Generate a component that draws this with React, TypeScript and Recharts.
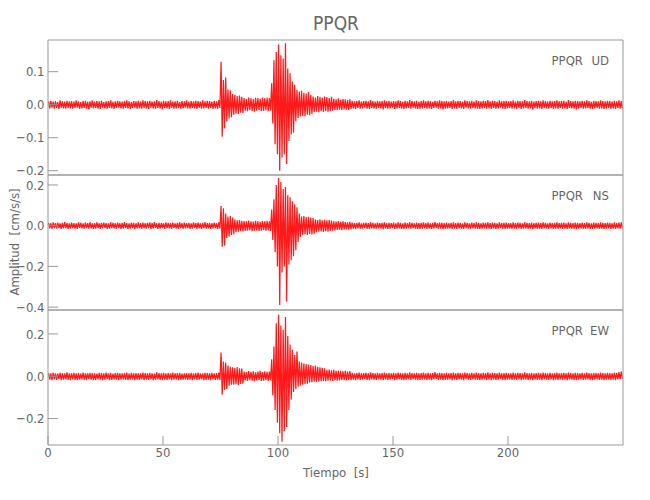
import React from 'react';
import { LineChart, Line, XAxis, YAxis } from 'recharts';

const FONT = "'Liberation Sans Narrow', 'DejaVu Sans Condensed', 'Liberation Sans', sans-serif";
const INK = '#666666';
const AXIS = '#999999';
const TRACE = '#ff0000';

const STATION = 'PPQR';
const TIME_MAJOR = [0, 50, 100, 150, 200];
const TIME_MINOR = [10, 20, 30, 40, 60, 70, 80, 90, 110, 120, 130, 140, 160, 170, 180, 190, 210, 220, 230, 240];

// peak (hi) and trough (lo) of each 1 s bin, cm/s/s
const UD_HI = [
  .010, .012, .009, .011, .008, .013, .010, .009, .012, .010,
  .011, .009, .013, .010, .008, .011, .012, .009, .010, .013,
  .009, .011, .010, .012, .008, .010, .011, .013, .009, .010,
  .012, .010, .009, .011, .013, .010, .008, .011, .010, .012,
  .009, .013, .011, .010, .012, .009, .010, .014, .011, .009,
  .012, .010, .011, .013, .009, .010, .012, .008, .011, .010,
  .013, .009, .011, .010, .012, .011, .009, .013, .010, .012,
  .011, .009, .012, .010, .014, .130, .075, .082, .046, .044,
  .032, .030, .026, .028, .024, .020, .018, .022, .019, .017,
  .021, .020, .018, .022, .019, .021, .020, .065, .135, .160,
  .182, .150, .140, .186, .110, .095, .070, .060, .045, .040,
  .042, .036, .034, .038, .030, .025, .022, .026, .024, .021,
  .025, .023, .020, .024, .018, .016, .019, .015, .017, .016,
  .014, .016, .012, .010, .011, .013, .009, .011, .012, .010,
  .014, .011, .009, .012, .010, .011, .013, .010, .012, .009,
  .011, .010, .013, .011, .009, .012, .010, .014, .011, .010,
  .012, .009, .011, .013, .010, .012, .011, .009, .012, .010,
  .013, .011, .010, .012, .009, .011, .014, .010, .012, .011,
  .009, .013, .011, .010, .012, .009, .013, .011, .010, .012,
  .011, .014, .010, .012, .011, .009, .013, .010, .011, .012,
  .010, .011, .013, .009, .012, .011, .010, .014, .011, .010,
  .012, .009, .011, .012, .010, .013, .011, .009, .012, .010,
  .011, .013, .010, .011, .012, .009, .014, .011, .010, .012,
  .011, .010, .012, .010, .013, .011, .009, .012, .011, .010,
  .013, .011, .010, .012, .011, .009, .012, .010, .013, .011,
];
const UD_LO = [
  -.011, -.009, -.012, -.010, -.013, -.009, -.011, -.012, -.010, -.011,
  -.012, -.010, -.009, -.013, -.011, -.010, -.012, -.014, -.009, -.011,
  -.010, -.012, -.013, -.009, -.011, -.012, -.010, -.011, -.013, -.010,
  -.009, -.011, -.012, -.010, -.011, -.013, -.010, -.009, -.012, -.011,
  -.012, -.010, -.011, -.013, -.009, -.011, -.012, -.010, -.011, -.014,
  -.010, -.011, -.013, -.009, -.012, -.011, -.010, -.012, -.011, -.009,
  -.011, -.012, -.010, -.011, -.013, -.009, -.012, -.011, -.010, -.012,
  -.010, -.013, -.011, -.012, -.010, -.097, -.072, -.050, -.042, -.038,
  -.030, -.027, -.028, -.024, -.026, -.018, -.020, -.017, -.019, -.021,
  -.018, -.016, -.020, -.019, -.017, -.020, -.018, -.057, -.120, -.150,
  -.200, -.160, -.150, -.180, -.110, -.090, -.085, -.050, -.040, -.036,
  -.034, -.035, -.030, -.032, -.028, -.022, -.021, -.023, -.020, -.022,
  -.019, -.021, -.020, -.018, -.016, -.017, -.015, -.016, -.014, -.015,
  -.016, -.013, -.011, -.013, -.010, -.012, -.011, -.009, -.012, -.013,
  -.010, -.011, -.012, -.010, -.011, -.014, -.010, -.012, -.011, -.009,
  -.013, -.011, -.010, -.012, -.013, -.011, -.010, -.012, -.009, -.011,
  -.013, -.012, -.011, -.010, -.012, -.011, -.013, -.010, -.009, -.012,
  -.011, -.014, -.012, -.011, -.010, -.013, -.011, -.012, -.010, -.011,
  -.013, -.009, -.011, -.012, -.010, -.011, -.012, -.013, -.011, -.010,
  -.012, -.011, -.013, -.010, -.012, -.011, -.009, -.012, -.013, -.011,
  -.010, -.012, -.011, -.012, -.010, -.013, -.011, -.010, -.012, -.011,
  -.014, -.010, -.012, -.011, -.013, -.010, -.011, -.012, -.010, -.013,
  -.011, -.012, -.010, -.012, -.011, -.013, -.010, -.011, -.012, -.014,
  -.011, -.010, -.012, -.011, -.010, -.012, -.013, -.011, -.010, -.012,
  -.011, -.013, -.011, -.010, -.012, -.011, -.013, -.010, -.012, -.011,
];

const NS_HI = [
  .014, .012, .016, .013, .015, .011, .014, .017, .013, .012,
  .015, .013, .012, .016, .014, .011, .015, .013, .017, .012,
  .013, .016, .012, .014, .015, .013, .011, .016, .014, .012,
  .015, .012, .014, .017, .013, .012, .015, .014, .011, .016,
  .013, .015, .012, .014, .016, .013, .018, .012, .014, .013,
  .012, .016, .014, .013, .015, .011, .014, .016, .012, .015,
  .013, .014, .012, .016, .013, .015, .012, .014, .017, .013,
  .014, .012, .015, .013, .016, .097, .085, .060, .045, .048,
  .040, .030, .026, .028, .024, .023, .021, .025, .022, .020,
  .024, .022, .019, .023, .021, .024, .022, .080, .130, .200,
  .234, .215, .180, .190, .150, .140, .120, .105, .090, .060,
  .045, .048, .042, .044, .040, .038, .030, .028, .031, .027,
  .029, .026, .028, .025, .022, .020, .023, .019, .021, .018,
  .017, .019, .015, .013, .014, .016, .012, .014, .015, .013,
  .017, .014, .012, .015, .013, .014, .016, .012, .014, .013,
  .015, .012, .016, .014, .012, .015, .013, .017, .014, .012,
  .015, .013, .014, .016, .013, .015, .012, .014, .018, .013,
  .015, .014, .013, .015, .012, .014, .016, .013, .015, .014,
  .012, .016, .014, .012, .015, .013, .016, .014, .012, .015,
  .014, .017, .013, .015, .014, .012, .016, .013, .014, .015,
  .013, .012, .016, .013, .015, .014, .012, .017, .014, .013,
  .015, .012, .014, .015, .013, .016, .014, .012, .015, .013,
  .014, .016, .013, .014, .015, .012, .016, .014, .013, .015,
  .014, .012, .015, .013, .016, .014, .012, .015, .014, .013,
  .016, .014, .013, .015, .014, .012, .016, .013, .015, .017,
];
const NS_LO = [
  -.013, -.015, -.012, -.014, -.011, -.016, -.013, -.012, -.015, -.014,
  -.012, -.014, -.016, -.011, -.013, -.015, -.012, -.014, -.013, -.016,
  -.014, -.012, -.015, -.013, -.011, -.016, -.014, -.012, -.013, -.015,
  -.012, -.016, -.013, -.011, -.015, -.014, -.012, -.017, -.013, -.012,
  -.015, -.013, -.014, -.012, -.016, -.013, -.011, -.015, -.014, -.012,
  -.016, -.012, -.013, -.015, -.011, -.014, -.016, -.012, -.015, -.013,
  -.012, -.015, -.014, -.011, -.016, -.013, -.015, -.012, -.014, -.013,
  -.015, -.013, -.012, -.016, -.014, -.103, -.098, -.060, -.054, -.045,
  -.042, -.032, -.030, -.027, -.028, -.026, -.024, -.022, -.027, -.025,
  -.023, -.026, -.024, -.021, -.025, -.023, -.026, -.070, -.130, -.200,
  -.390, -.230, -.200, -.374, -.190, -.170, -.150, -.120, -.080, -.055,
  -.045, -.042, -.046, -.040, -.043, -.039, -.032, -.030, -.028, -.031,
  -.027, -.029, -.026, -.024, -.023, -.021, -.020, -.022, -.019, -.018,
  -.020, -.017, -.014, -.016, -.013, -.015, -.014, -.012, -.015, -.016,
  -.013, -.014, -.015, -.013, -.014, -.017, -.013, -.015, -.014, -.012,
  -.016, -.014, -.013, -.015, -.016, -.014, -.013, -.015, -.012, -.014,
  -.016, -.015, -.014, -.013, -.015, -.014, -.016, -.013, -.012, -.015,
  -.014, -.017, -.015, -.014, -.013, -.016, -.014, -.015, -.013, -.014,
  -.016, -.012, -.014, -.015, -.013, -.014, -.015, -.016, -.014, -.013,
  -.015, -.014, -.016, -.013, -.015, -.014, -.012, -.015, -.016, -.014,
  -.013, -.015, -.014, -.015, -.013, -.016, -.014, -.013, -.015, -.014,
  -.017, -.013, -.015, -.014, -.016, -.013, -.014, -.015, -.013, -.016,
  -.014, -.015, -.013, -.015, -.014, -.016, -.013, -.014, -.015, -.017,
  -.014, -.013, -.015, -.014, -.013, -.015, -.016, -.014, -.013, -.015,
  -.014, -.016, -.014, -.013, -.015, -.014, -.016, -.013, -.015, -.014,
];

const EW_HI = [
  .015, .013, .017, .014, .012, .016, .015, .013, .018, .014,
  .013, .016, .014, .015, .012, .017, .014, .013, .016, .015,
  .014, .012, .016, .015, .013, .017, .014, .016, .012, .015,
  .016, .014, .013, .015, .017, .012, .016, .014, .015, .013,
  .014, .017, .015, .013, .016, .014, .012, .018, .015, .014,
  .016, .013, .015, .014, .017, .013, .015, .016, .012, .014,
  .015, .014, .016, .013, .015, .017, .014, .013, .016, .015,
  .013, .016, .014, .015, .017, .112, .070, .065, .050, .045,
  .042, .040, .044, .038, .036, .022, .020, .024, .021, .023,
  .019, .022, .025, .020, .023, .021, .022, .080, .140, .250,
  .290, .240, .220, .280, .190, .150, .125, .100, .117, .070,
  .065, .060, .058, .055, .053, .048, .050, .045, .042, .040,
  .038, .030, .032, .028, .030, .026, .027, .025, .023, .026,
  .022, .024, .016, .014, .015, .017, .013, .015, .016, .014,
  .018, .015, .013, .016, .014, .015, .017, .013, .015, .014,
  .016, .013, .017, .015, .013, .016, .014, .018, .015, .013,
  .016, .014, .015, .017, .014, .016, .013, .015, .019, .014,
  .016, .015, .014, .016, .013, .015, .017, .014, .016, .015,
  .013, .017, .015, .013, .016, .014, .017, .015, .013, .016,
  .015, .018, .014, .016, .015, .013, .017, .014, .015, .016,
  .014, .013, .017, .014, .016, .015, .013, .018, .015, .014,
  .016, .013, .015, .016, .014, .017, .015, .013, .016, .014,
  .015, .017, .014, .015, .016, .013, .017, .015, .014, .016,
  .015, .013, .016, .014, .017, .015, .013, .016, .015, .014,
  .017, .015, .014, .016, .015, .013, .017, .016, .020, .022,
];
const EW_LO = [
  -.016, -.018, -.015, -.017, -.014, -.019, -.016, -.015, -.017, -.018,
  -.015, -.017, -.019, -.016, -.015, -.017, -.018, -.014, -.016, -.019,
  -.017, -.015, -.016, -.018, -.016, -.014, -.019, -.017, -.015, -.016,
  -.018, -.016, -.015, -.017, -.019, -.016, -.015, -.018, -.016, -.017,
  -.015, -.018, -.016, -.017, -.015, -.019, -.016, -.015, -.017, -.018,
  -.016, -.017, -.015, -.018, -.016, -.015, -.019, -.017, -.016, -.015,
  -.017, -.016, -.018, -.015, -.017, -.016, -.014, -.018, -.017, -.016,
  -.018, -.015, -.017, -.016, -.018, -.088, -.065, -.060, -.045, -.040,
  -.040, -.038, -.042, -.036, -.035, -.020, -.022, -.019, -.021, -.023,
  -.020, -.018, -.022, -.021, -.019, -.022, -.020, -.090, -.160, -.220,
  -.270, -.310, -.260, -.240, -.160, -.110, -.075, -.060, -.050, -.045,
  -.040, -.038, -.035, -.030, -.028, -.026, -.027, -.025, -.024, -.022,
  -.023, -.021, -.020, -.022, -.019, -.021, -.020, -.018, -.019, -.020,
  -.017, -.018, -.016, -.018, -.015, -.017, -.016, -.014, -.017, -.018,
  -.015, -.016, -.017, -.015, -.016, -.019, -.015, -.017, -.016, -.014,
  -.018, -.016, -.015, -.017, -.018, -.016, -.015, -.017, -.014, -.016,
  -.018, -.017, -.016, -.015, -.017, -.016, -.018, -.015, -.014, -.017,
  -.016, -.019, -.017, -.016, -.015, -.018, -.016, -.017, -.015, -.016,
  -.018, -.014, -.016, -.017, -.015, -.016, -.017, -.018, -.016, -.015,
  -.017, -.016, -.018, -.015, -.017, -.016, -.014, -.017, -.018, -.016,
  -.015, -.017, -.016, -.017, -.015, -.018, -.016, -.015, -.017, -.016,
  -.019, -.015, -.017, -.016, -.018, -.015, -.016, -.017, -.015, -.018,
  -.016, -.017, -.015, -.017, -.016, -.018, -.015, -.016, -.017, -.019,
  -.016, -.015, -.017, -.016, -.015, -.017, -.018, -.016, -.015, -.017,
  -.016, -.018, -.016, -.015, -.017, -.016, -.018, -.015, -.014, -.013,
];

const UD_MAJOR = [-0.2, -0.1, 0, 0.1];
const UD_MINOR = [-0.15, -0.05, 0.05, 0.15];
const NS_MAJOR = [-0.4, -0.2, 0, 0.2];
const NS_MINOR = [-0.3, -0.1, 0.1];
const EW_MAJOR = [-0.2, 0, 0.2];
const EW_MINOR = [-0.3, -0.1, 0.1, 0.3];

// each bin drawn as its peak then its trough, min/max style
function traceRows(hi: number[], lo: number[]) {
  const rows: { t: number; a: number }[] = [];
  hi.forEach((h, i) => {
    rows.push({ t: i + 0.25, a: h });
    if (lo[i] !== undefined) rows.push({ t: i + 0.75, a: lo[i] });
  });
  return rows;
}

const fmt = (v: number) => v.toFixed(1).replace('-', '\u2212');
const tickFont = { fill: INK, fontSize: 13, fontFamily: FONT };

interface PanelProps {
  code: string;
  hi: number[];
  lo: number[];
  domain: [number, number];
  major: number[];
  minor: number[];
  top: number;
  bottom: number;
  showTime?: boolean;
}

function Panel({ hi, lo, domain, major, minor, top, bottom, showTime }: PanelProps) {
  const rows = traceRows(hi, lo);
  const xCommon = { type: 'number' as const, dataKey: 't', domain: [0, 250], allowDataOverflow: true, interval: 0 as const };
  const yCommon = { type: 'number' as const, domain, allowDataOverflow: true, interval: 0 as const };
  return (
    <div style={{ position: 'absolute', left: 0, top: 0 }}>
      <LineChart width={650} height={500} data={rows}
        margin={{ top: top - 10, bottom: 500 - bottom - 10, left: 18, right: 17 }}>
        <XAxis xAxisId="b" orientation="bottom" {...xCommon} ticks={TIME_MAJOR} height={10}
          tickSize={-9} tickMargin={12} axisLine={{ stroke: AXIS }} tickLine={{ stroke: AXIS }}
          tick={showTime ? tickFont : false} />
        <XAxis xAxisId="bm" orientation="bottom" mirror {...xCommon} ticks={TIME_MINOR} height={10}
          tickSize={4.5} axisLine={false} tickLine={{ stroke: AXIS }} tick={false} />
        <XAxis xAxisId="t" orientation="top" {...xCommon} ticks={TIME_MAJOR} height={10}
          tickSize={-9} axisLine={{ stroke: AXIS }} tickLine={{ stroke: AXIS }} tick={false} />
        <XAxis xAxisId="tm" orientation="top" mirror {...xCommon} ticks={TIME_MINOR} height={10}
          tickSize={4.5} axisLine={false} tickLine={{ stroke: AXIS }} tick={false} />
        <YAxis yAxisId="l" orientation="left" {...yCommon} ticks={major} width={30}
          tickSize={-10} tickMargin={13.5} tickFormatter={fmt} tick={tickFont}
          axisLine={{ stroke: AXIS }} tickLine={{ stroke: AXIS }} />
        <YAxis yAxisId="lm" orientation="left" mirror {...yCommon} ticks={minor} width={10}
          tickSize={5} axisLine={false} tickLine={{ stroke: AXIS }} tick={false} />
        <YAxis yAxisId="r" orientation="right" {...yCommon} ticks={major} width={10}
          tickSize={-10} axisLine={{ stroke: AXIS }} tickLine={{ stroke: AXIS }} tick={false} />
        <YAxis yAxisId="rm" orientation="right" mirror {...yCommon} ticks={minor} width={10}
          tickSize={5} axisLine={false} tickLine={{ stroke: AXIS }} tick={false} />
        <Line xAxisId="b" yAxisId="l" dataKey="a" stroke={TRACE} strokeWidth={1.25} strokeOpacity={0.9}
          dot={false} isAnimationActive={false} />
      </LineChart>
    </div>
  );
}

const PANELS: PanelProps[] = [
  { code: 'UD', hi: UD_HI, lo: UD_LO, domain: [-0.213, 0.196], major: UD_MAJOR, minor: UD_MINOR, top: 40, bottom: 175 },
  { code: 'NS', hi: NS_HI, lo: NS_LO, domain: [-0.414, 0.249], major: NS_MAJOR, minor: NS_MINOR, top: 175, bottom: 310 },
  { code: 'EW', hi: EW_HI, lo: EW_LO, domain: [-0.325, 0.313], major: EW_MAJOR, minor: EW_MINOR, top: 310, bottom: 445, showTime: true },
];

export default function App() {
  const text = { fill: INK, fontFamily: FONT };
  return (
    <div style={{ position: 'absolute', left: 0, top: 0, width: 650, height: 500, background: '#fff', overflow: 'hidden' }}>
      {PANELS.map((p) => <Panel key={p.code} {...p} />)}
      <svg width={650} height={500} style={{ position: 'absolute', left: 0, top: 0, pointerEvents: 'none' }}>
        <text x={336} y={30} textAnchor="middle" fontSize={19} {...text}>{STATION}</text>
        {PANELS.map((p) => (
          <g key={p.code}>
            <text x={583} y={p.top + 25} textAnchor="end" fontSize={13} {...text}>{STATION}</text>
            <text x={609} y={p.top + 25} textAnchor="end" fontSize={13} {...text}>{p.code}</text>
          </g>
        ))}
        <text x={336} y={477} textAnchor="middle" fontSize={13} style={{ whiteSpace: 'pre' }} {...text}>Tiempo  [s]</text>
        <text x={0} y={0} transform="translate(19 242) rotate(-90)" textAnchor="middle" fontSize={13}
          style={{ whiteSpace: 'pre' }} {...text}>Amplitud  [cm/s/s]</text>
      </svg>
    </div>
  );
}
